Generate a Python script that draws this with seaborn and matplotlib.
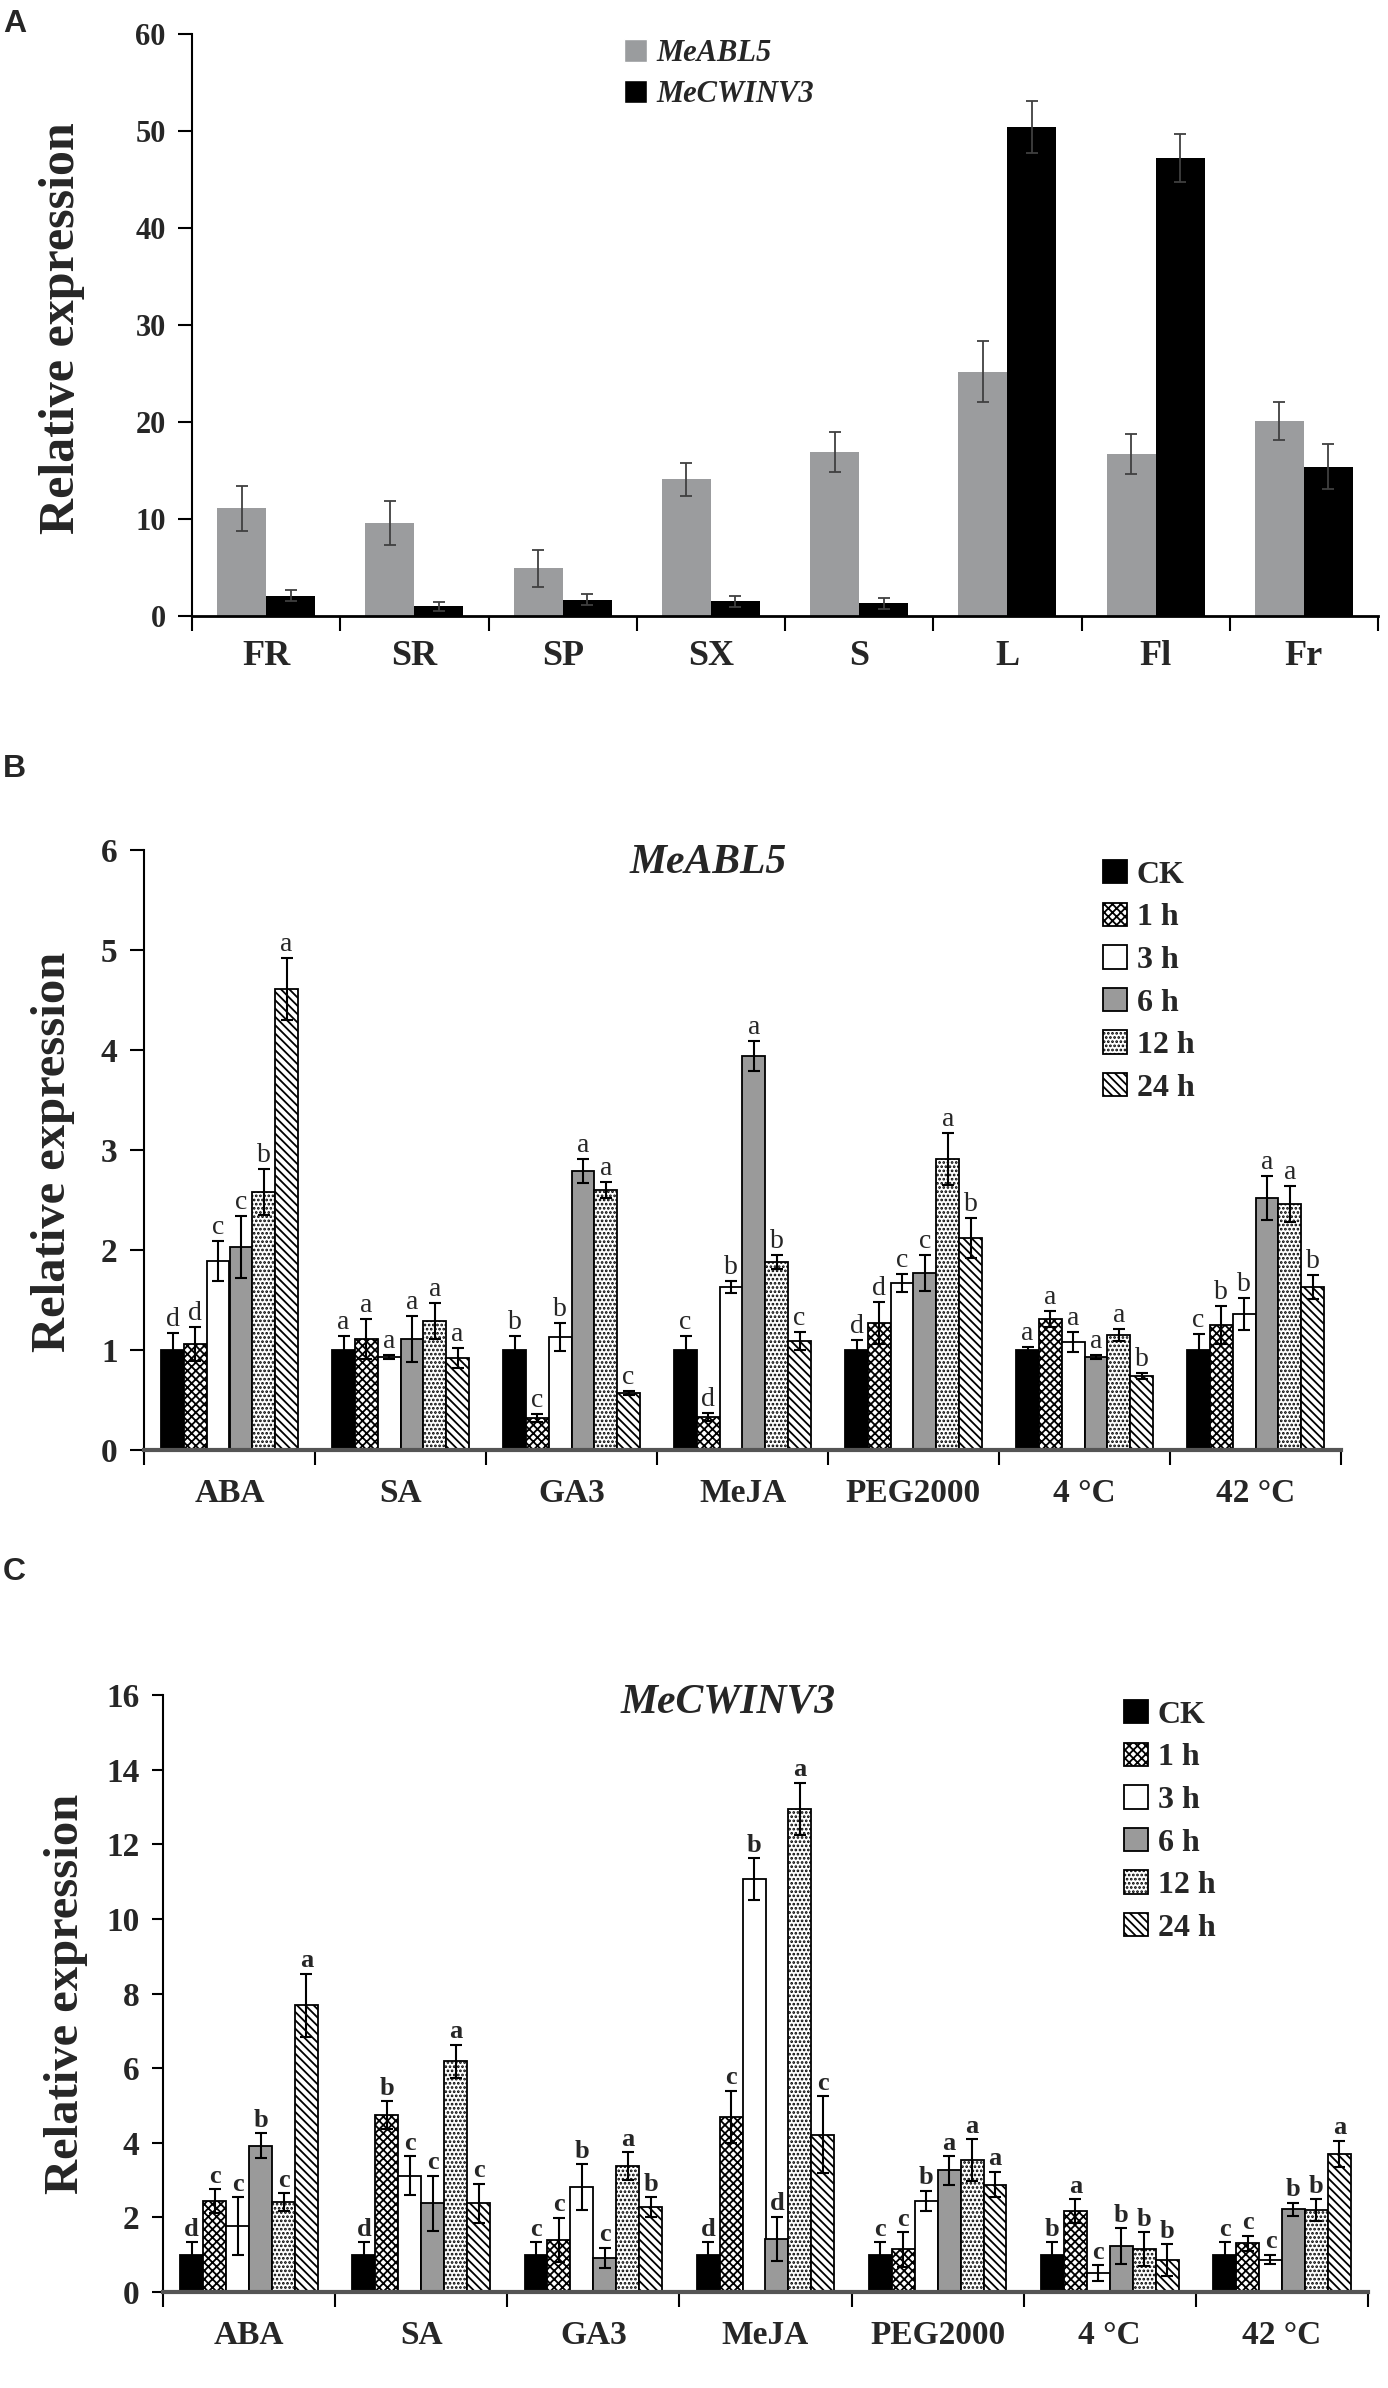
import pandas as pd
import matplotlib.pyplot as plt
import seaborn as sns
from matplotlib.patches import Patch

# ====================
# DATA
# ====================

# Panel A: tissue expression
tissues = ["FR", "SR", "SP", "SX", "S", "L", "Fl", "Fr"]
genes = ["MeABL5", "MeCWINV3"]
abl5_tissue = [11.1, 9.6, 4.9, 14.1, 16.9, 25.2, 16.7, 20.1]
abl5_tissue_err = [2.3, 2.3, 1.9, 1.7, 2.1, 3.1, 2.1, 2.0]
cwinv3_tissue = [2.1, 1.0, 1.7, 1.5, 1.3, 50.4, 47.2, 15.4]
cwinv3_tissue_err = [0.6, 0.45, 0.6, 0.6, 0.6, 2.7, 2.5, 2.3]

# Panels B and C: treatments x time points
treatments = ["ABA", "SA", "GA3", "MeJA", "PEG2000", "4 °C", "42 °C"]
times = ["CK", "1 h", "3 h", "6 h", "12 h", "24 h"]

# MeABL5, one row per treatment, columns follow `times`
abl5_vals = [
    [1.0, 1.06, 1.89, 2.03, 2.58, 4.61],
    [1.0, 1.11, 0.93, 1.11, 1.29, 0.92],
    [1.0, 0.32, 1.13, 2.79, 2.60, 0.57],
    [1.0, 0.33, 1.63, 3.94, 1.88, 1.09],
    [1.0, 1.27, 1.67, 1.77, 2.91, 2.12],
    [1.0, 1.31, 1.08, 0.93, 1.15, 0.74],
    [1.0, 1.25, 1.36, 2.52, 2.46, 1.63],
]
abl5_err = [
    [0.17, 0.17, 0.20, 0.31, 0.23, 0.31],
    [0.14, 0.20, 0.02, 0.23, 0.18, 0.10],
    [0.14, 0.04, 0.14, 0.12, 0.08, 0.02],
    [0.14, 0.04, 0.06, 0.15, 0.07, 0.09],
    [0.10, 0.21, 0.09, 0.18, 0.26, 0.20],
    [0.03, 0.08, 0.10, 0.02, 0.06, 0.03],
    [0.16, 0.19, 0.16, 0.22, 0.18, 0.12],
]
abl5_letters = [
    ["d", "d", "c", "c", "b", "a"],
    ["a", "a", "a", "a", "a", "a"],
    ["b", "c", "b", "a", "a", "c"],
    ["c", "d", "b", "a", "b", "c"],
    ["d", "d", "c", "c", "a", "b"],
    ["a", "a", "a", "a", "a", "b"],
    ["c", "b", "b", "a", "a", "b"],
]

# MeCWINV3
cwinv3_vals = [
    [1.0, 2.44, 1.76, 3.92, 2.41, 7.68],
    [1.0, 4.75, 3.12, 2.38, 6.18, 2.38],
    [1.0, 1.40, 2.81, 0.92, 3.37, 2.27],
    [1.0, 4.70, 11.06, 1.43, 12.95, 4.22],
    [1.0, 1.14, 2.44, 3.26, 3.54, 2.88],
    [1.0, 2.17, 0.51, 1.23, 1.16, 0.85],
    [1.0, 1.30, 0.87, 2.22, 2.19, 3.71],
]
cwinv3_err = [
    [0.33, 0.31, 0.78, 0.34, 0.24, 0.85],
    [0.33, 0.37, 0.52, 0.74, 0.45, 0.52],
    [0.33, 0.59, 0.62, 0.27, 0.38, 0.27],
    [0.33, 0.70, 0.56, 0.59, 0.70, 1.02],
    [0.33, 0.47, 0.27, 0.38, 0.56, 0.34],
    [0.33, 0.31, 0.21, 0.48, 0.45, 0.43],
    [0.33, 0.21, 0.13, 0.17, 0.29, 0.35],
]
cwinv3_letters = [
    ["d", "c", "c", "b", "c", "a"],
    ["d", "b", "c", "c", "a", "c"],
    ["c", "c", "b", "c", "a", "b"],
    ["d", "c", "b", "d", "a", "c"],
    ["c", "c", "b", "a", "a", "a"],
    ["b", "a", "c", "b", "b", "b"],
    ["c", "c", "c", "b", "b", "a"],
]

# ====================
# STYLE
# ====================

sns.set_theme(style="white")
plt.rcParams["font.family"] = ["Liberation Serif", "DejaVu Serif"]
plt.rcParams["hatch.color"] = "black"
plt.rcParams["hatch.linewidth"] = 1.3

time_faces = {"CK": "black", "1 h": "white", "3 h": "white",
              "6 h": "#9a9a9a", "12 h": "white", "24 h": "white"}
time_hatches = {"CK": "", "1 h": "xxxx", "3 h": "", "6 h": "",
                "12 h": "....", "24 h": "\\\\\\\\"}

W, H = 1388, 2388
fig = plt.figure(figsize=(W / 100, H / 100), dpi=100)


def px_axes(left, right, top, bottom):
    return fig.add_axes([left / W, 1 - bottom / H, (right - left) / W, (bottom - top) / H])


def sorted_bars(container):
    return sorted(container.patches, key=lambda p: p.get_x())


def style_cat_axis(ax, cats, n_tick_pt, n_lab_pt, lab_pad, bottom_color, bottom_lw, tick_len):
    ax.set_xlim(-0.5, len(cats) - 0.5)
    ax.set_xticks(range(len(cats)))
    ax.set_xticklabels(cats, fontsize=n_lab_pt, fontweight="bold")
    ax.tick_params(axis="x", which="major", length=0, pad=lab_pad)
    ax.set_xticks([i - 0.5 for i in range(len(cats) + 1)], minor=True)
    ax.tick_params(axis="x", which="minor", length=11, width=1.5, direction="out",
                   color="black", bottom=True)
    ax.tick_params(axis="y", length=tick_len, width=1.5, direction="out", pad=9,
                   color="black", left=True, labelsize=n_tick_pt)
    for lab in ax.get_yticklabels():
        lab.set_fontweight("bold")
    sns.despine(ax=ax)
    ax.spines["left"].set_color("black")
    ax.spines["left"].set_linewidth(1.5)
    ax.spines["bottom"].set_color(bottom_color)
    ax.spines["bottom"].set_linewidth(bottom_lw)
    ax.set_xlabel("")


# ====================
# PANEL A
# ====================

axA = px_axes(192, 1378, 34, 616)
dfA = pd.DataFrame({
    "tissue": tissues * 2,
    "gene": [genes[0]] * len(tissues) + [genes[1]] * len(tissues),
    "value": abl5_tissue + cwinv3_tissue,
})
sns.barplot(data=dfA, x="tissue", y="value", hue="gene", order=tissues, hue_order=genes,
            palette=["#9a9c9e", "black"], width=0.66, errorbar=None, legend=False,
            linewidth=0, ax=axA)
for cont, vals, errs in zip(axA.containers, [abl5_tissue, cwinv3_tissue],
                            [abl5_tissue_err, cwinv3_tissue_err]):
    xs = [p.get_x() + p.get_width() / 2 for p in sorted_bars(cont)]
    axA.errorbar(xs, vals, yerr=errs, fmt="none", ecolor="#404040", elinewidth=1.3,
                 capsize=4, capthick=1.3)
axA.set_ylim(0, 60)
axA.set_yticks(range(0, 61, 10))
style_cat_axis(axA, tissues, 22, 26, 17, "black", 2.0, 10)
axA.set_ylabel("Relative expression", fontsize=36, fontweight="bold")
axA.yaxis.set_label_coords(-0.090, 0.495)
axA.legend(handles=[Patch(facecolor="#9a9c9e"), Patch(facecolor="black")], labels=genes,
           loc="upper left", bbox_to_anchor=(624 / W, 1 - 39 / H), bbox_transform=fig.transFigure,
           frameon=False, borderpad=0, borderaxespad=0, handlelength=0.75, handleheight=0.75,
           handletextpad=0.3, labelspacing=0.4,
           prop=dict(size=22, style="italic", weight="bold"))
fig.text(3 / W, 1 - 9 / H, "A", family="Liberation Sans", fontsize=23, fontweight="bold",
         va="top", ha="left")


# ====================
# PANELS B AND C
# ====================

def treatment_panel(ax, vals, errs, letters, ymax, ystep, title, title_xy, leg_xy,
                    tick_len, letter_weight, letter_size, label_coords):
    df = pd.DataFrame({
        "treatment": [t for t in treatments for _ in times],
        "time": [h for _ in treatments for h in times],
        "value": [v for row in vals for v in row],
    })
    sns.barplot(data=df, x="treatment", y="value", hue="time", order=treatments,
                hue_order=times, palette=[time_faces[t] for t in times], width=0.8,
                errorbar=None, legend=False, edgecolor="black", linewidth=1.3, ax=ax)
    for j, (cont, t) in enumerate(zip(ax.containers, times)):
        bars = sorted_bars(cont)
        for bar in bars:
            bar.set_hatch(time_hatches[t])
        xs = [b.get_x() + b.get_width() / 2 for b in bars]
        ys = [vals[i][j] for i in range(len(treatments))]
        es = [errs[i][j] for i in range(len(treatments))]
        ax.errorbar(xs, ys, yerr=es, fmt="none", ecolor="black", elinewidth=1.5,
                    capsize=4.5, capthick=1.5, zorder=3)
        for x, y, e, i in zip(xs, ys, es, range(len(treatments))):
            ax.annotate(letters[i][j], (x, y + e), xytext=(0, 1), textcoords="offset points",
                        ha="center", va="bottom", fontsize=letter_size,
                        fontweight=letter_weight)
    ax.set_ylim(0, ymax)
    ax.set_yticks(range(0, ymax + 1, ystep))
    style_cat_axis(ax, treatments, 24, 24, 20, "#555555", 3.0, tick_len)
    ax.set_ylabel("Relative expression", fontsize=35, fontweight="bold")
    ax.yaxis.set_label_coords(*label_coords)
    ax.text(title_xy[0], title_xy[1], title, transform=ax.transAxes, ha="center",
            va="center", fontsize=30, fontweight="bold", style="italic")
    handles = [Patch(facecolor=time_faces[t], edgecolor="black", hatch=time_hatches[t],
                     linewidth=1.3) for t in times]
    ax.legend(handles=handles, labels=times, loc="upper left", bbox_to_anchor=leg_xy,
              bbox_transform=fig.transFigure, frameon=False, borderpad=0, borderaxespad=0,
              handlelength=0.75, handleheight=0.75, handletextpad=0.3, labelspacing=0.4,
              prop=dict(size=23, weight="bold"))


axB = px_axes(144, 1341, 850, 1450)
treatment_panel(axB, abl5_vals, abl5_err, abl5_letters, 6, 1, "MeABL5", (0.471, 0.978),
                (1103 / W, 1 - 860 / H), 10, "normal", 20, (-0.058, 0.497))
fig.text(3 / W, 1 - 754 / H, "B", family="Liberation Sans", fontsize=23, fontweight="bold",
         va="top", ha="left")

axC = px_axes(163, 1368, 1695, 2292)
treatment_panel(axC, cwinv3_vals, cwinv3_err, cwinv3_letters, 16, 2, "MeCWINV3", (0.469, 0.987),
                (1124 / W, 1 - 1700 / H), 8, "bold", 19, (-0.062, 0.5))
fig.text(3 / W, 1 - 1557 / H, "C", family="Liberation Sans", fontsize=23, fontweight="bold",
         va="top", ha="left")

fig.savefig("out.png", dpi=100)
